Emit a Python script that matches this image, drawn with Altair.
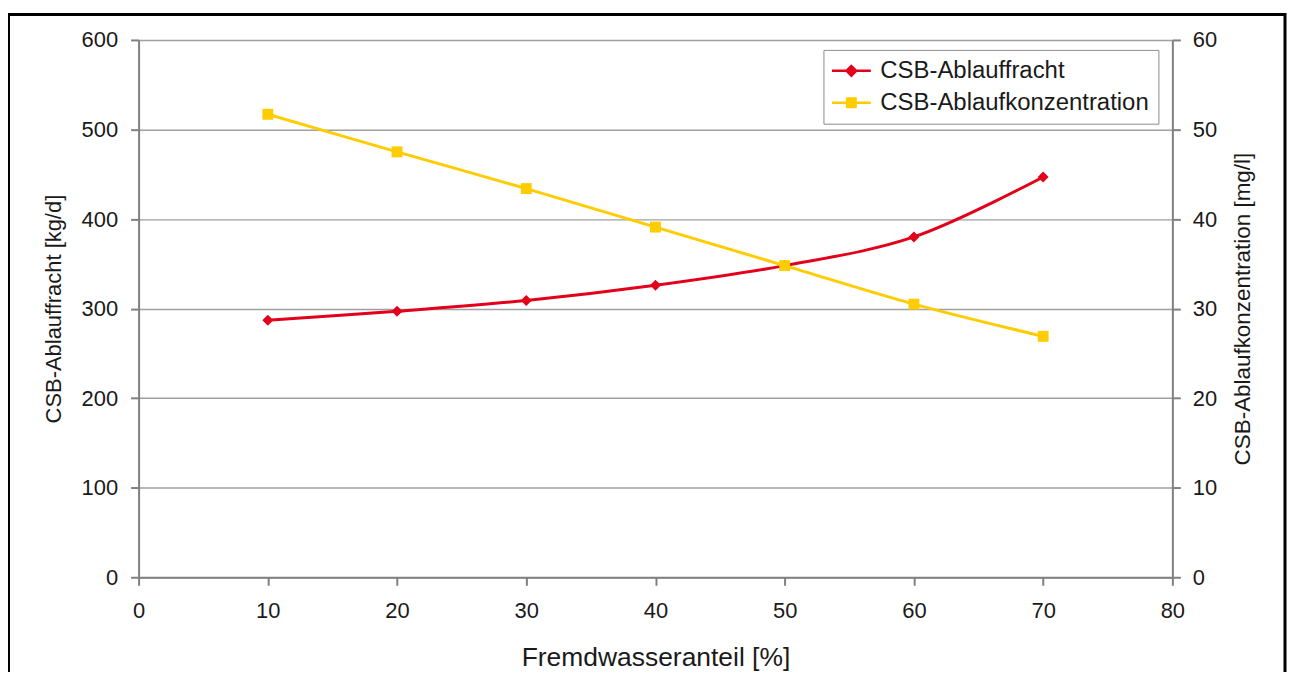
import altair as alt
import pandas as pd

# ---- data ----
x_vals = [10, 20, 30, 40, 50, 60, 70]
fracht = [287, 297, 309, 326, 348, 380, 447]          # CSB-Ablauffracht [kg/d] (left axis)
konz = [51.7, 47.5, 43.4, 39.1, 34.8, 30.5, 26.9]     # CSB-Ablaufkonzentration [mg/l] (right axis)
series = ["CSB-Ablauffracht", "CSB-Ablaufkonzentration"]
colors = ["#e3001b", "#ffcc00"]
x_ticks = [0, 10, 20, 30, 40, 50, 60, 70, 80]
left_ticks = [0, 100, 200, 300, 400, 500, 600]
right_ticks = [0, 10, 20, 30, 40, 50, 60]

df = pd.DataFrame({"x": x_vals, "fracht": fracht, "konz": konz})

FONT = "Liberation Sans"
W, H = 1037, 539

x_enc = alt.X(
    "x:Q",
    scale=alt.Scale(domain=[0, 80], nice=False, zero=False),
    axis=alt.Axis(
        values=x_ticks, grid=False, title="Fremdwasseranteil [%]",
        labelPadding=15, labelFlush=False, titleFontSize=26.5, titleX=W / 2, titleY=81,
        titleBaseline="middle", titleAlign="center",
    ),
)

left_axis = alt.Axis(
    values=left_ticks, grid=True, orient="left", title="CSB-Ablauffracht [kg/d]",
    labelPadding=13, labelFlush=False, titleX=-85, titleY=H / 2, titleAngle=270,
    titleAlign="center", titleBaseline="middle",
)
right_axis = alt.Axis(
    values=right_ticks, grid=False, orient="right", title="CSB-Ablaufkonzentration [mg/l]",
    labelPadding=12, labelFlush=False, titleX=70, titleY=H / 2, titleAngle=270,
    titleAlign="center", titleBaseline="middle", titleFontSize=22.5,
)

base = alt.Chart(df)

red_line = base.mark_line(color=colors[0], strokeWidth=3, interpolate="catmull-rom").encode(
    x=x_enc,
    y=alt.Y("fracht:Q", scale=alt.Scale(domain=[0, 600], nice=False), axis=left_axis),
)
red_pts = base.mark_point(shape="diamond", filled=True, size=120, color=colors[0], opacity=1).encode(
    x=x_enc,
    y=alt.Y("fracht:Q", scale=alt.Scale(domain=[0, 600], nice=False), axis=left_axis),
)
yel_line = base.mark_line(color=colors[1], strokeWidth=3, interpolate="catmull-rom").encode(
    x=x_enc,
    y=alt.Y("konz:Q", scale=alt.Scale(domain=[0, 60], nice=False), axis=right_axis),
)
yel_pts = base.mark_point(shape="square", filled=True, size=120, color=colors[1], opacity=1).encode(
    x=x_enc,
    y=alt.Y("konz:Q", scale=alt.Scale(domain=[0, 60], nice=False), axis=right_axis),
)

# legend (line + marker symbols), driven by an empty layer with explicit scale domains
diamond_path = "M-1.95,0L1.95,0M0,-0.48L0.48,0L0,0.48L-0.48,0Z"
square_path = "M-1.95,0L1.95,0M-0.42,-0.42L0.42,-0.42L0.42,0.42L-0.42,0.42Z"
leg = alt.Legend(
    title=None, orient="none", legendX=687, legendY=10,
    strokeColor="#8c8c8c", fillColor="white", padding=9,
    labelFont=FONT, labelFontSize=24, labelColor="#1a1a1a", labelLimit=400,
    symbolSize=400, symbolStrokeWidth=2.5, symbolOffset=7, labelOffset=17,
    rowPadding=8,
)
legend_df = pd.DataFrame({"series": series})
ghost = alt.Chart(legend_df).transform_filter("false").mark_point(
    filled=True, strokeWidth=2.5, opacity=1
).encode(
    color=alt.Color("series:N", scale=alt.Scale(domain=series, range=colors), legend=leg),
    stroke=alt.Stroke("series:N", scale=alt.Scale(domain=series, range=colors), legend=leg),
    shape=alt.Shape("series:N", scale=alt.Scale(domain=series, range=[diamond_path, square_path]), legend=leg),
)

# outer frame of the figure
frame = alt.Chart(pd.DataFrame({"f": [0]})).mark_rect(
    filled=False, color="black", strokeWidth=3
).encode(
    x=alt.value(-130.5), x2=alt.value(1150), y=alt.value(-25.5), y2=alt.value(700)
)

chart = alt.layer(
    alt.layer(red_line, red_pts),
    alt.layer(yel_line, yel_pts),
    ghost,
    frame,
).resolve_scale(y="independent").properties(
    width=W, height=H,
    autosize=alt.AutoSizeParams(type="none"),
    padding={"left": 131, "top": 31, "right": 116, "bottom": 94},
    background="white",
).configure_view(
    stroke="transparent"
).configure_axis(
    domainColor="#808080", domainWidth=2,
    tickColor="#808080", tickWidth=2, tickSize=8,
    gridColor="#a0a0a0", gridWidth=1.5,
    labelFont=FONT, labelFontSize=22, labelColor="#1a1a1a",
    titleFont=FONT, titleFontSize=22, titleFontWeight="normal", titleColor="#1a1a1a",
)

chart.save("out.html", embed_options={"renderer": "svg", "actions": False})
